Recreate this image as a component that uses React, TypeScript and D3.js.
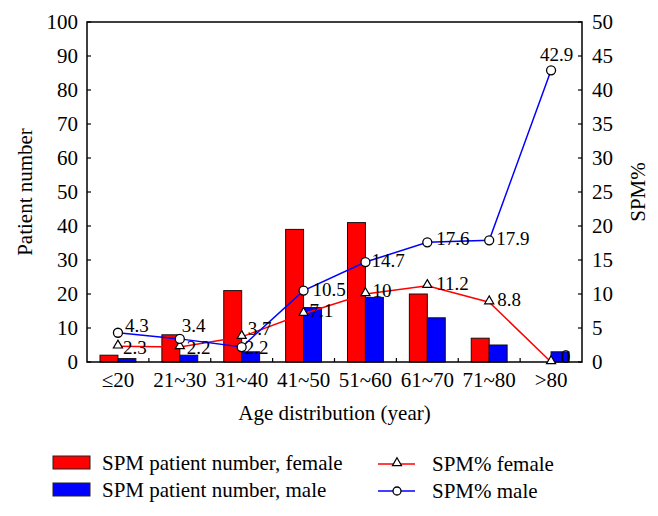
import React, { useEffect, useRef } from 'react';
import * as d3 from 'd3';

// chart data
const ageGroups = ['≤20', '21~30', '31~40', '41~50', '51~60', '61~70', '71~80', '>80'];
const femaleCount = [2, 8, 21, 39, 41, 20, 7, 0];
const maleCount = [1, 2, 3, 16, 19, 13, 5, 3];
const femalePct = [2.3, 2.2, 3.7, 7.1, 10, 11.2, 8.8, 0];
const malePct = [4.3, 3.4, 2.2, 10.5, 14.7, 17.6, 17.9, 42.9];
const countTicks = [0, 10, 20, 30, 40, 50, 60, 70, 80, 90, 100];
const pctTicks = [0, 5, 10, 15, 20, 25, 30, 35, 40, 45, 50];

// where each value label sits relative to its marker (dx, dy of baseline)
const femaleLabelOffset: [number, number][] = [[5, 8], [7, 7], [6, -2], [6, 3], [7, 3], [9, 4], [8, 4], [10, 1]];
const maleLabelOffset: [number, number][] = [[7, -1], [2, -7], [3, 7], [9, 5], [6, 5], [9, 3], [7, 5], [-11, -9]];

const FONT = '"Liberation Serif", "Times New Roman", serif';

const App = () => {
  const ref = useRef<SVGSVGElement | null>(null);

  useEffect(() => {
    document.body.style.margin = '0';
    const svg = d3.select(ref.current);
    svg.selectAll('*').remove();

    const width = 658;
    const height = 516;
    const m = { top: 22, right: 76, bottom: 154, left: 87 };
    const x0 = m.left, x1 = width - m.right;
    const y0 = height - m.bottom, y1 = m.top;

    svg.attr('width', width).attr('height', height)
      .style('font-family', FONT)
      .style('background', '#fff');

    const x = d3.scaleBand<string>().domain(ageGroups).range([x0, x1])
      .paddingInner(0.42).paddingOuter(0.21);
    const sub = d3.scaleBand<string>().domain(['f', 'm']).range([0, x.bandwidth()]);
    const yL = d3.scaleLinear().domain([0, 100]).range([y0, y1]);
    const yR = d3.scaleLinear().domain([0, 50]).range([y0, y1]);
    const step = x.step();
    const cx = (g: string) => (x(g) as number) + x.bandwidth() / 2;

    // bars
    const bars = svg.append('g');
    const barSeries = [
      { key: 'f', values: femaleCount, color: '#ff0000' },
      { key: 'm', values: maleCount, color: '#0000ff' },
    ];
    barSeries.forEach(s => {
      bars.selectAll(null)
        .data(s.values)
        .enter().append('rect')
        .attr('x', (d, i) => (x(ageGroups[i]) as number) + (sub(s.key) as number))
        .attr('width', sub.bandwidth())
        .attr('y', d => yL(d))
        .attr('height', d => y0 - yL(d))
        .attr('fill', s.color)
        .attr('stroke', '#111')
        .attr('stroke-width', 1);
    });

    // frame
    svg.append('rect')
      .attr('x', x0).attr('y', y1)
      .attr('width', x1 - x0).attr('height', y0 - y1)
      .attr('fill', 'none').attr('stroke', '#000').attr('stroke-width', 1.5);

    // left axis
    const left = svg.append('g');
    countTicks.forEach(t => {
      left.append('line').attr('x1', x0).attr('x2', x0 + 4)
        .attr('y1', yL(t)).attr('y2', yL(t)).attr('stroke', '#000').attr('stroke-width', 1.2);
      left.append('text').attr('x', x0 - 9).attr('y', yL(t)).attr('dy', '0.33em')
        .attr('text-anchor', 'end').attr('font-size', 21).text(t);
    });

    // right axis
    const right = svg.append('g');
    pctTicks.forEach(t => {
      right.append('line').attr('x1', x1 - 4).attr('x2', x1)
        .attr('y1', yR(t)).attr('y2', yR(t)).attr('stroke', '#000').attr('stroke-width', 1.2);
      right.append('text').attr('x', x1 + 10).attr('y', yR(t)).attr('dy', '0.33em')
        .attr('text-anchor', 'start').attr('font-size', 21).text(t);
    });

    // bottom axis: small ticks between groups, labels under centers
    const bottom = svg.append('g');
    ageGroups.slice(1).forEach((g) => {
      const bx = (x(g) as number) - (step - x.bandwidth()) / 2;
      bottom.append('line').attr('x1', bx).attr('x2', bx)
        .attr('y1', y0).attr('y2', y0 - 4).attr('stroke', '#000').attr('stroke-width', 1.2);
    });
    ageGroups.forEach(g => {
      bottom.append('text').attr('x', cx(g)).attr('y', y0 + 25)
        .attr('text-anchor', 'middle').attr('font-size', 21).text(g);
    });

    // axis titles
    svg.append('text').attr('x', (x0 + x1) / 2).attr('y', 420)
      .attr('text-anchor', 'middle').attr('font-size', 21).text('Age distribution (year)');
    svg.append('text').attr('transform', `translate(32,${(y0 + y1) / 2}) rotate(-90)`)
      .attr('text-anchor', 'middle').attr('font-size', 21).text('Patient number');
    svg.append('text').attr('transform', `translate(645,${(y0 + y1) / 2}) rotate(-90)`)
      .attr('text-anchor', 'middle').attr('font-size', 21).text('SPM%');

    // percentage lines
    const line = d3.line<number>()
      .x((d, i) => cx(ageGroups[i]))
      .y(d => yR(d));

    const tri = d3.symbol().type(d3.symbolTriangle).size(36);

    const lineSeries = [
      { values: femalePct, color: '#ff0000', marker: 'tri', offs: femaleLabelOffset },
      { values: malePct, color: '#0000ff', marker: 'circle', offs: maleLabelOffset },
    ];
    lineSeries.forEach(s => {
      svg.append('path').datum(s.values)
        .attr('d', line)
        .attr('fill', 'none').attr('stroke', s.color).attr('stroke-width', 1.5);
    });
    lineSeries.forEach(s => {
      const g = svg.append('g');
      s.values.forEach((v, i) => {
        const px = cx(ageGroups[i]);
        const py = yR(v);
        if (s.marker === 'tri') {
          g.append('path').attr('d', tri as any)
            .attr('transform', `translate(${px},${py - 1})`)
            .attr('fill', '#fff').attr('stroke', '#000').attr('stroke-width', 1.2);
        } else {
          g.append('circle').attr('cx', px).attr('cy', py).attr('r', 4.5)
            .attr('fill', '#fff').attr('stroke', '#000').attr('stroke-width', 1.3);
        }
        g.append('text')
          .attr('x', px + s.offs[i][0]).attr('y', py + s.offs[i][1])
          .attr('font-size', 19).text(v);
      });
    });

    // legend
    const lg = svg.append('g').attr('font-size', 21);
    const barLegend = [
      { label: 'SPM patient number, female', color: '#ff0000' },
      { label: 'SPM patient number, male', color: '#0000ff' },
    ];
    barLegend.forEach((d, i) => {
      const ly = 463 + i * 27;
      lg.append('rect').attr('x', 53).attr('y', ly - 7).attr('width', 37).attr('height', 13)
        .attr('fill', d.color).attr('stroke', '#222').attr('stroke-width', 1);
      lg.append('text').attr('x', 102).attr('y', ly + 7).text(d.label);
    });
    const lineLegend = [
      { label: 'SPM% female', color: '#ff0000', marker: 'tri' },
      { label: 'SPM% male', color: '#0000ff', marker: 'circle' },
    ];
    lineLegend.forEach((d, i) => {
      const ly = 464 + i * 27;
      lg.append('line').attr('x1', 378).attr('x2', 415).attr('y1', ly).attr('y2', ly)
        .attr('stroke', d.color).attr('stroke-width', 1.5);
      if (d.marker === 'tri') {
        lg.append('path').attr('d', tri as any).attr('transform', `translate(397,${ly - 1})`)
          .attr('fill', '#fff').attr('stroke', '#000').attr('stroke-width', 1.2);
      } else {
        lg.append('circle').attr('cx', 397).attr('cy', ly).attr('r', 4)
          .attr('fill', '#fff').attr('stroke', '#000').attr('stroke-width', 1.3);
      }
      lg.append('text').attr('x', 432).attr('y', ly + 7).text(d.label);
    });
  }, []);

  return <svg ref={ref} />;
};

export default App;
